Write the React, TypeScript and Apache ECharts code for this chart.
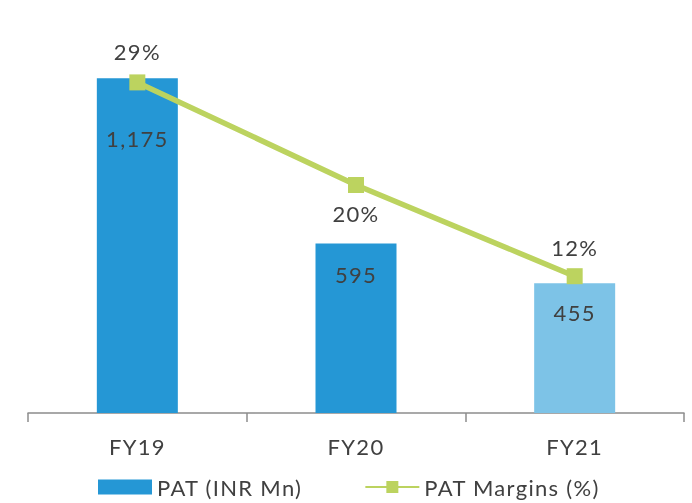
import React, { useEffect, useRef } from "react";
import * as echarts from "echarts";

const categories = ["FY19", "FY20", "FY21"];
const patValues = [1175, 595, 455];
const marginValues = [29, 20, 12];

const barColors = ["#2597D5", "#2597D5", "#7DC3E7"];
const barLabelDistance = [49, 20, 18];
const lineLabelPos: ("top" | "bottom")[] = ["top", "bottom", "top"];
const lineLabelDistance = [12, 9, 10];

const FONT = "Lato, 'Open Sans', sans-serif";
const TEXT = "#404040";
const GREEN = "#BCD35F";

export default function App() {
  const ref = useRef<HTMLDivElement>(null);

  useEffect(() => {
    if (!ref.current) return;
    const chart = echarts.init(ref.current, undefined, { renderer: "svg" });
    chart.setOption({
      animation: false,
      textStyle: { fontFamily: FONT, color: TEXT },
      grid: { left: 28, right: 8, top: 14, bottom: 90 },
      legend: {
        bottom: 0,
        left: 93,
        itemWidth: 54,
        itemHeight: 15,
        itemGap: 77,
        textStyle: { fontFamily: FONT, fontSize: 22, color: TEXT },
        data: [
          { name: "PAT (INR Mn)", icon: "rect", itemStyle: { color: "#2597D5" } },
          { name: "PAT Margins (%)" },
        ],
      },
      xAxis: {
        type: "category",
        data: categories,
        axisLine: { lineStyle: { color: "#8C8C8C", width: 1.5 } },
        axisTick: { show: true, length: 9, lineStyle: { color: "#8C8C8C", width: 1.5 } },
        axisLabel: { fontFamily: FONT, fontSize: 22, color: TEXT, margin: 22 },
      },
      yAxis: [
        { type: "value", min: 0, max: 1400, show: false, splitLine: { show: false } },
        { type: "value", min: 0, max: 35, show: false, splitLine: { show: false } },
      ],
      series: [
        {
          name: "PAT (INR Mn)",
          type: "bar",
          barWidth: 81,
          yAxisIndex: 0,
          data: patValues.map((v, i) => ({
            value: v,
            itemStyle: { color: barColors[i] },
            label: { distance: barLabelDistance[i] },
          })),
          label: {
            show: true,
            position: "insideTop",
            fontFamily: FONT,
            fontSize: 22,
            color: TEXT,
            formatter: (p: any) => p.value.toLocaleString("en-US"),
          },
          z: 1,
        },
        {
          name: "PAT Margins (%)",
          type: "line",
          yAxisIndex: 1,
          symbol: "rect",
          symbolSize: 16,
          lineStyle: { color: GREEN, width: 5.5 },
          itemStyle: { color: GREEN },
          data: marginValues.map((v, i) => ({
            value: v,
            label: { position: lineLabelPos[i], distance: lineLabelDistance[i] },
          })),
          label: {
            show: true,
            fontFamily: FONT,
            fontSize: 22,
            color: TEXT,
            formatter: (p: any) => `${p.value}%`,
          },
          z: 3,
        },
      ],
    });
    return () => chart.dispose();
  }, []);

  return (
    <>
      <style>{"#pat-chart text { letter-spacing: 1.3px; }"}</style>
      <div
        id="pat-chart"
        ref={ref}
        style={{ position: "fixed", left: 0, top: 0, width: 692, height: 503 }}
      />
    </>
  );
}
